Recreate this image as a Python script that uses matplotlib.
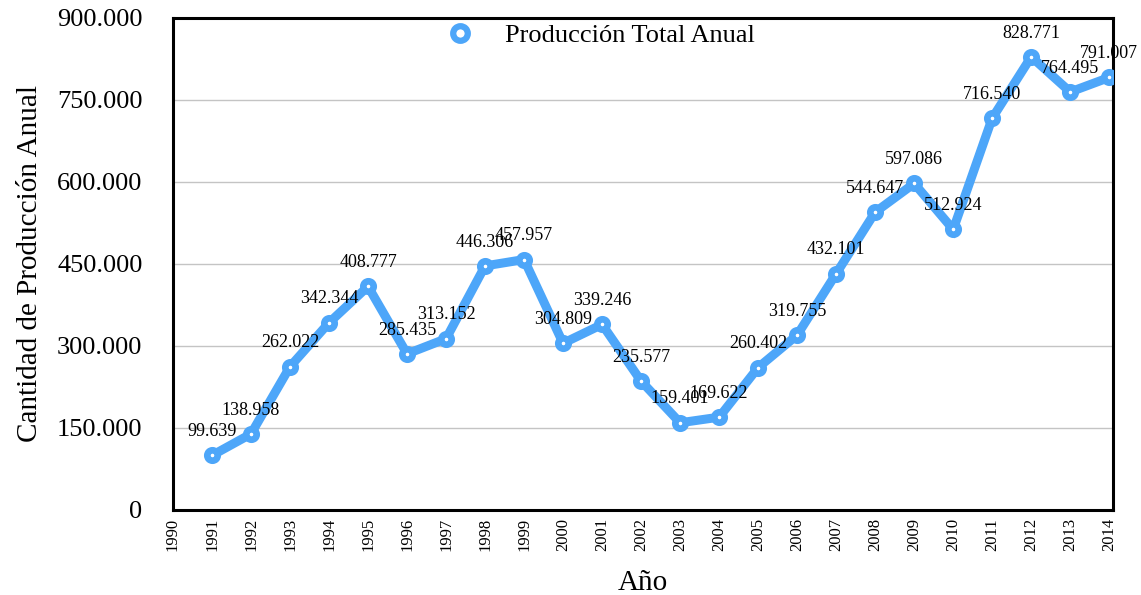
import matplotlib
matplotlib.use('Agg')
import matplotlib.pyplot as plt
from matplotlib.ticker import FuncFormatter
from matplotlib.lines import Line2D

# Producción total anual por año
years = [1991, 1992, 1993, 1994, 1995, 1996, 1997, 1998, 1999, 2000, 2001, 2002,
         2003, 2004, 2005, 2006, 2007, 2008, 2009, 2010, 2011, 2012, 2013, 2014]
production = [99639, 138958, 262022, 342344, 408777, 285435, 313152, 446306, 457957,
              304809, 339246, 235577, 159401, 169622, 260402, 319755, 432101, 544647,
              597086, 512924, 716540, 828771, 764495, 791007]
yticks = [0, 150000, 300000, 450000, 600000, 750000, 900000]
xticks = list(range(1990, 2015))

plt.rcParams['font.family'] = ['Liberation Serif', 'DejaVu Serif']

def dotted(v, pos=None):
    # 99639 -> "99.639"
    if v == 0:
        return '0'
    return '{:,.0f}'.format(v).replace(',', '.')

fig = plt.figure(figsize=(11.41, 5.95), dpi=100)
ax = fig.add_axes([0.1516, 0.143, 0.824, 0.827])

line_color = '#4DA6F9'
ax.plot(years, production, color=line_color, linewidth=6.5, marker='o',
        markersize=7.5, markerfacecolor='white', markeredgecolor=line_color,
        markeredgewidth=4.8, zorder=3,
        solid_joinstyle='miter', solid_capstyle='round')

for x, y in zip(years, production):
    ax.annotate(dotted(y), (x, y), xytext=(0, 11), textcoords='offset points',
                ha='center', va='bottom', fontsize=13, zorder=4)

ax.set_xlim(1990, 2014.1)
ax.set_ylim(0, 900000)
ax.set_xticks(xticks)
ax.set_xticklabels([str(x) for x in xticks], rotation=90, fontsize=12)
ax.set_yticks(yticks)
ax.yaxis.set_major_formatter(FuncFormatter(dotted))
ax.tick_params(axis='y', labelsize=19, length=0, pad=22)
ax.tick_params(axis='x', length=0, pad=6)
ax.grid(True, axis='y', color='#c4c4c4', linewidth=1)
ax.set_axisbelow(True)
for s in ax.spines.values():
    s.set_linewidth(2.2)

ax.set_xlabel('Año', fontsize=21, labelpad=13)
ax.set_ylabel('Cantidad de Producción Anual', fontsize=21, labelpad=10)

# legend shows only the marker (ring)
handle = Line2D([], [], linestyle='none', marker='o', markersize=10.5,
                markerfacecolor='white', markeredgecolor=line_color,
                markeredgewidth=4.5)
ax.legend([handle], ['Producción Total Anual'], loc='center',
          bbox_to_anchor=(0.455, 0.965), frameon=False, fontsize=19,
          handlelength=1.0, handletextpad=1.2)

fig.savefig('out.png', dpi=100)
